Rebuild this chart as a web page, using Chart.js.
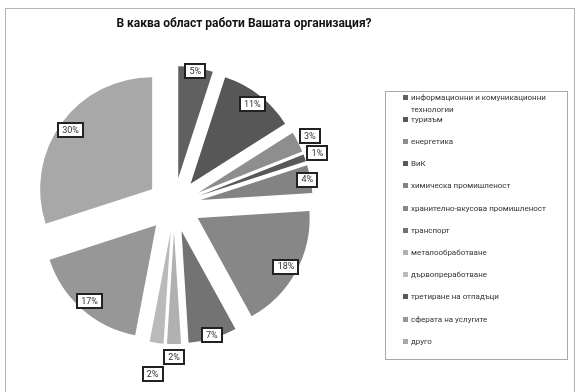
<!DOCTYPE html>
<html>
<head>
<meta charset="utf-8">
<script src="https://cdn.jsdelivr.net/npm/chart.js@4.4.1/dist/chart.umd.min.js"></script>
<style>
  html, body { margin: 0; padding: 0; background: #fff; }
  #wrap { position: relative; width: 577px; height: 392px; }
</style>
</head>
<body>
<div id="wrap"><canvas id="AreaChart" width="577" height="392"></canvas></div>
<script>
const chartTitle = "В каква област работи Вашата организация?";

const categories = [
  "информационни и комуникационни технологии",
  "туризъм",
  "енергетика",
  "ВиК",
  "химическа промишленост",
  "хранително-вкусова промишленост",
  "транспорт",
  "металообработване",
  "дървопреработване",
  "третиране на отпадъци",
  "сферата на услугите",
  "друго",
];

// % от анкетираните организации
const shares = [5, 11, 3, 1, 4, 18, 7, 2, 2, 0, 17, 30];

const sliceColors = [
  "#606060", "#575757", "#8e8e8e", "#585858", "#838383", "#878787",
  "#737373", "#b1b1b1", "#bababa", "#5a5a5a", "#979797", "#a8a8a8",
];

const EXPLODE = 27;
const FONT = "Roboto, 'Noto Sans', sans-serif";

// рамка, заглавие и легенда
const decorPlugin = {
  id: "decor",
  beforeDraw(chart) {
    const ctx = chart.ctx;
    ctx.save();
    ctx.fillStyle = "#fff";
    ctx.fillRect(0, 0, chart.width, chart.height);
    ctx.strokeStyle = "#b4b4b4";
    ctx.lineWidth = 1;
    ctx.strokeRect(5.5, 8.5, 569, 400);

    ctx.fillStyle = "#111";
    ctx.font = "bold 12px " + FONT;
    ctx.textAlign = "center";
    ctx.textBaseline = "middle";
    ctx.fillText(chartTitle, 244, 24);
    ctx.restore();
  },
  afterDraw(chart) {
    const ctx = chart.ctx;
    const left = 385, top = 91, right = 567, bottom = 359;
    ctx.save();
    ctx.strokeStyle = "#a8a8a8";
    ctx.lineWidth = 1;
    ctx.strokeRect(left + 0.5, top + 0.5, right - left, bottom - top);

    ctx.font = "8px " + FONT;
    ctx.textAlign = "left";
    ctx.textBaseline = "middle";
    const colors = chart.data.datasets[0].backgroundColor;
    chart.data.labels.forEach((label, i) => {
      const y = top + 6.5 + i * 22.2;
      ctx.fillStyle = colors[i];
      ctx.fillRect(403, Math.round(y) - 3, 5, 5);
      ctx.fillStyle = "#333";
      // пренасяне на дългите надписи
      const words = label.split(" ");
      let line = "", ly = y;
      words.forEach((w) => {
        const test = line ? line + " " + w : w;
        if (line && ctx.measureText(test).width > 150) {
          ctx.fillText(line, 411, ly);
          line = w;
          ly += 12.5;
        } else {
          line = test;
        }
      });
      ctx.fillText(line, 411, ly);
    });
    ctx.restore();
  },
};

// изнесени парчета: всяка дъга се премества по ъглополовящата си
const explodePlugin = {
  id: "explode",
  beforeDatasetDraw(chart, args) {
    const ctx = chart.ctx;
    args.meta.data.forEach((arc) => {
      const mid = (arc.startAngle + arc.endAngle) / 2;
      ctx.save();
      ctx.translate(Math.cos(mid) * EXPLODE, Math.sin(mid) * EXPLODE);
      arc.draw(ctx);
      ctx.restore();
    });
    return false;
  },
};

// процентите в рамки
const valueLabelPlugin = {
  id: "valueLabels",
  afterDatasetsDraw(chart) {
    const ctx = chart.ctx;
    const meta = chart.getDatasetMeta(0);
    const placed = [];
    ctx.save();
    ctx.font = "9px " + FONT;
    ctx.textAlign = "center";
    ctx.textBaseline = "middle";
    meta.data.forEach((arc, i) => {
      const value = shares[i];
      if (!value) return;
      const mid = (arc.startAngle + arc.endAngle) / 2;
      const cx = arc.x + Math.cos(mid) * EXPLODE;
      const cy = arc.y + Math.sin(mid) * EXPLODE;
      const text = value + "%";
      const w = Math.round(ctx.measureText(text).width) + 8;
      const h = 14;
      let k = value >= 10 ? 0.9 : value >= 4 ? 0.97 : 1.12;
      let r = arc.outerRadius * k;
      let box;
      for (let n = 0; n < 60; n++) {
        const x = cx + Math.cos(mid) * r;
        const y = cy + Math.sin(mid) * r;
        box = { x1: x - w / 2, y1: y - h / 2, x2: x + w / 2, y2: y + h / 2, x, y };
        const hit = placed.some((b) =>
          box.x1 < b.x2 + 2 && box.x2 > b.x1 - 2 && box.y1 < b.y2 + 2 && box.y2 > b.y1 - 2);
        if (!hit) break;
        r += 2;
      }
      placed.push(box);
      const bx = Math.round(box.x1), by = Math.round(box.y1);
      ctx.fillStyle = "#fff";
      ctx.fillRect(bx, by, w, h);
      ctx.strokeStyle = "#222";
      ctx.lineWidth = 2;
      ctx.strokeRect(bx, by, w, h);
      ctx.fillStyle = "#333";
      ctx.fillText(text, box.x, box.y + 0.5);
    });
    ctx.restore();
  },
};

new Chart(document.getElementById("AreaChart"), {
  type: "pie",
  data: {
    labels: categories,
    datasets: [
      {
        data: shares,
        backgroundColor: sliceColors,
        borderWidth: 0,
      },
    ],
  },
  options: {
    responsive: false,
    animation: false,
    devicePixelRatio: 1,
    radius: 112,
    layout: { padding: { left: 40, right: 269, top: 70, bottom: 52 } },
    plugins: {
      legend: { display: false },
      title: { display: false },
      tooltip: { enabled: false },
    },
  },
  plugins: [decorPlugin, explodePlugin, valueLabelPlugin],
});
</script>
</body>
</html>
